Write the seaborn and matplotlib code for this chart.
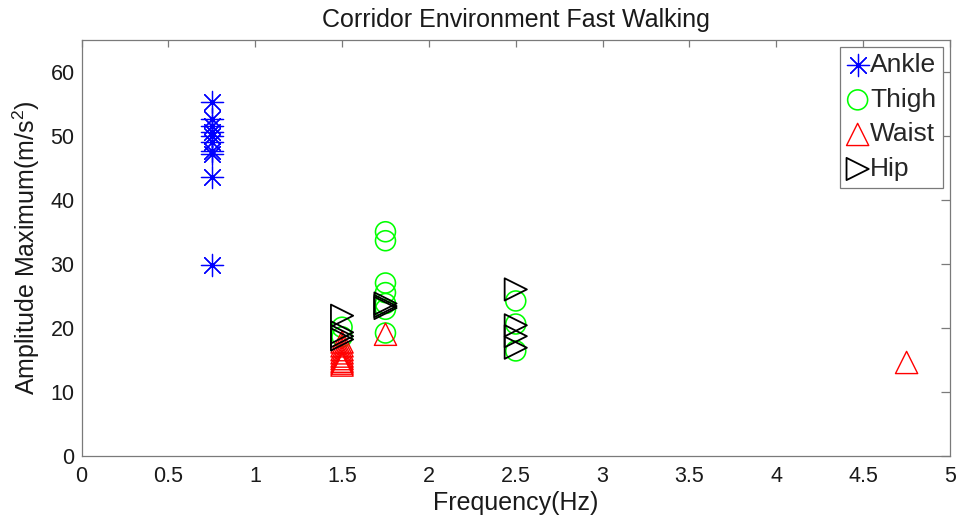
import numpy as np
import pandas as pd
import matplotlib
matplotlib.use("Agg")
import matplotlib.pyplot as plt
import matplotlib.ticker as mticker
import seaborn as sns

ankle_freq = [0.75] * 10
ankle_amp = [55.2, 52.6, 51.5, 50.6, 50.0, 49.0, 47.6, 47.2, 43.6, 29.8]

thigh_freq = [1.5, 1.5, 1.75, 1.75, 1.75, 1.75, 1.75, 1.75, 1.75, 2.5, 2.5, 2.5]
thigh_amp = [20.1, 18.6, 35.0, 33.6, 27.0, 25.5, 23.8, 22.9, 19.2, 24.2, 20.6, 16.4]

waist_freq = [1.5] * 9 + [1.75, 4.75]
waist_amp = [17.8, 17.2, 16.6, 16.1, 15.6, 15.2, 14.8, 14.5, 14.2, 19.0, 14.6]

hip_freq = [1.5, 1.5, 1.5, 1.5, 1.75, 1.75, 1.75, 2.5, 2.5, 2.5, 2.5]
hip_amp = [21.9, 19.3, 18.7, 18.2, 23.8, 23.4, 23.1, 26.0, 20.4, 18.7, 16.9]

sensors = ["Ankle", "Thigh", "Waist", "Hip"]
colors = {"Ankle": "#0000ff", "Thigh": "#00ff00", "Waist": "#ff0000", "Hip": "#000000"}
markers = {"Ankle": (8, 2, 0), "Thigh": "o", "Waist": "^", "Hip": ">"}
sizes = {"Ankle": 256, "Thigh": 207, "Waist": 256, "Hip": 256}
widths = {"Ankle": 0.9, "Thigh": 1.15, "Waist": 1.0, "Hip": 1.3}

df = pd.concat([
    pd.DataFrame({"freq": ankle_freq, "amp": ankle_amp, "sensor": "Ankle"}),
    pd.DataFrame({"freq": thigh_freq, "amp": thigh_amp, "sensor": "Thigh"}),
    pd.DataFrame({"freq": waist_freq, "amp": waist_amp, "sensor": "Waist"}),
    pd.DataFrame({"freq": hip_freq, "amp": hip_amp, "sensor": "Hip"}),
], ignore_index=True)

sns.set_style("white")
plt.rcParams["font.family"] = ["Liberation Sans", "DejaVu Sans"]
plt.rcParams["mathtext.fontset"] = "custom"
plt.rcParams["mathtext.rm"] = "Liberation Sans"
plt.rcParams["mathtext.it"] = "Liberation Sans:italic"

fig = plt.figure(figsize=(9.6, 5.27), dpi=100)
ax = fig.add_axes([0.0849, 0.1347, 0.9047, 0.7903])

for name in sensors:
    sub = df[df["sensor"] == name]
    if name == "Ankle":
        # asterisk is an unfilled marker, colour comes from the face
        sns.scatterplot(data=sub, x="freq", y="amp", marker=markers[name], s=sizes[name],
                        color=colors[name], linewidth=widths[name], label=name, ax=ax, zorder=3)
    else:
        sns.scatterplot(data=sub, x="freq", y="amp", marker=markers[name], s=sizes[name],
                        color=colors[name], facecolor="none", edgecolor=colors[name],
                        linewidth=widths[name], label=name, ax=ax, zorder=3)

ax.set_xlim(0, 5)
ax.set_ylim(0, 65)
ax.set_xticks(np.arange(0, 5.01, 0.5))
ax.set_yticks(np.arange(0, 61, 10))
ax.xaxis.set_major_formatter(mticker.FuncFormatter(lambda v, p: f"{v:g}"))

axis_grey = "#7a7a7a"
for sp in ax.spines.values():
    sp.set_visible(True)
    sp.set_color(axis_grey)
    sp.set_linewidth(0.9)

ax.tick_params(axis="both", which="major", direction="in", top=True, right=True,
               color=axis_grey, width=0.9, labelsize=15.5, labelcolor="#1a1a1a")
ax.tick_params(axis="x", length=4.8, pad=7)
ax.tick_params(axis="y", length=6.2, pad=5)

ax.set_title("Corridor Environment Fast Walking", fontsize=18, color="#1a1a1a", pad=9)
ax.set_xlabel("Frequency(Hz)", fontsize=18, color="#1a1a1a", labelpad=3)
ax.set_ylabel(r"Amplitude Maximum(m/s$^{\mathrm{2}}$)", fontsize=18, color="#1a1a1a", labelpad=6)

leg = ax.legend(loc="upper right", fontsize=19, frameon=True, fancybox=False,
                framealpha=1, edgecolor=axis_grey, handlelength=0.85, handletextpad=0.05,
                labelspacing=0.4, borderpad=0.25, borderaxespad=0.27, scatterpoints=1)
leg.get_frame().set_linewidth(0.9)

fig.savefig("out.png", dpi=100)
plt.close(fig)
